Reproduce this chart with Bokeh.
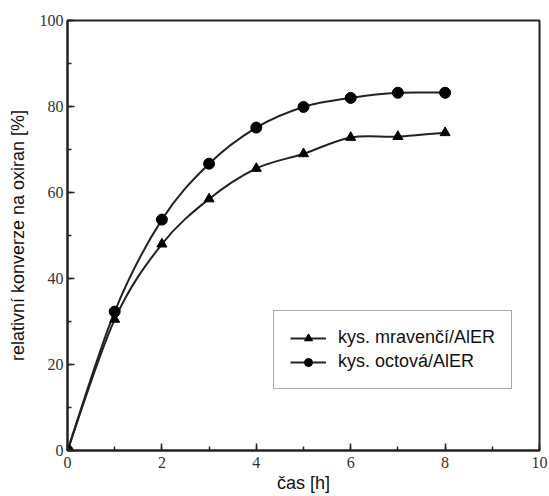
from bokeh.plotting import figure
from bokeh.models import Range1d, FixedTicker, Legend, LegendItem
from bokeh.embed import file_html
from bokeh.resources import INLINE

# time [h]
cas = [0, 1, 2, 3, 4, 5, 6, 7, 8]
# relative conversion to oxirane [%]
mravenci = [0, 30.5, 48.0, 58.5, 65.6, 69.0, 72.8, 73.0, 73.9]
octova = [0, 32.3, 53.7, 66.7, 75.1, 79.9, 82.0, 83.2, 83.2]

x_ticks = [0, 2, 4, 6, 8, 10]
y_ticks = [0, 20, 40, 60, 80, 100]

INK = "#222222"
SERIF = "'Liberation Serif', 'Times New Roman', serif"
SANS = "'Liberation Sans', Arial, sans-serif"


def smooth_segments(xs, ys):
    """Catmull-Rom connector between consecutive points, as cubic Bezier pieces."""
    n = len(xs)
    seg = dict(x0=[], y0=[], x1=[], y1=[], cx0=[], cy0=[], cx1=[], cy1=[])
    for i in range(n - 1):
        a = max(i - 1, 0)
        d = min(i + 2, n - 1)
        seg["x0"].append(xs[i]); seg["y0"].append(ys[i])
        seg["x1"].append(xs[i + 1]); seg["y1"].append(ys[i + 1])
        seg["cx0"].append(xs[i] + (xs[i + 1] - xs[a]) / 6)
        seg["cy0"].append(ys[i] + (ys[i + 1] - ys[a]) / 6)
        seg["cx1"].append(xs[i + 1] - (xs[d] - xs[i]) / 6)
        seg["cy1"].append(ys[i + 1] - (ys[d] - ys[i]) / 6)
    return seg


p = figure(width=549, height=496, output_backend="svg", toolbar_location=None,
           x_range=Range1d(0, 10), y_range=Range1d(0, 100),
           min_border_left=67, min_border_right=10, min_border_top=20, min_border_bottom=46)
p.background_fill_color = "white"
p.border_fill_color = "white"
p.grid.visible = False
p.outline_line_color = INK
p.outline_line_width = 2

for ax in (p.xaxis[0], p.yaxis[0]):
    ax.axis_line_color = INK
    ax.axis_line_width = 2
    ax.major_tick_in = 7
    ax.major_tick_out = 0
    ax.minor_tick_in = 4
    ax.minor_tick_out = 0
    ax.major_tick_line_color = INK
    ax.minor_tick_line_color = INK
    ax.major_tick_line_width = 1.5
    ax.minor_tick_line_width = 1.5
    ax.major_label_text_font = SERIF
    ax.major_label_text_font_size = "16px"
    ax.major_label_text_color = "#333333"
    ax.axis_label_text_font = SANS
    ax.axis_label_text_font_style = "normal"
    ax.axis_label_text_color = "#111111"
    ax.axis_label_text_font_size = "18px"

p.xaxis.ticker = FixedTicker(ticks=x_ticks, minor_ticks=list(range(0, 11)))
p.yaxis.ticker = FixedTicker(ticks=y_ticks, minor_ticks=list(range(0, 101, 10)))
p.xaxis.axis_label = "čas [h]"
p.yaxis.axis_label = "relativní konverze na oxiran [%]"
p.xaxis.major_label_standoff = 6
p.xaxis.axis_label_standoff = 2
p.yaxis.major_label_standoff = 4
p.yaxis.axis_label_standoff = 9

s1 = smooth_segments(cas, mravenci)
s2 = smooth_segments(cas, octova)
p.bezier(x0=s1["x0"], y0=s1["y0"], x1=s1["x1"], y1=s1["y1"], cx0=s1["cx0"], cy0=s1["cy0"],
         cx1=s1["cx1"], cy1=s1["cy1"], line_color=INK, line_width=2)
p.bezier(x0=s2["x0"], y0=s2["y0"], x1=s2["x1"], y1=s2["y1"], cx0=s2["cx0"], cy0=s2["cy0"],
         cx1=s2["cx1"], cy1=s2["cy1"], line_color=INK, line_width=2)

# one-point lines: invisible in the plot, they give the legend its line sample
k1 = p.line(cas[:1], mravenci[:1], line_color=INK, line_width=2)
k2 = p.line(cas[:1], octova[:1], line_color=INK, line_width=2)

m1 = p.scatter(cas, mravenci, marker="triangle", size=10, fill_color="black", line_color="black")
m2 = p.scatter(cas, octova, marker="circle", size=11, fill_color="black", line_color="black")

legend = Legend(items=[
    LegendItem(label="kys. mravenčí/AlER", renderers=[k1, m1]),
    LegendItem(label="kys. octová/AlER", renderers=[k2, m2]),
], location=(206, 61))
legend.label_text_font = SANS
legend.label_text_font_size = "18px"
legend.label_text_color = "#111111"
legend.border_line_color = "#555555"
legend.border_line_width = 1.5
legend.glyph_width = 36
legend.spacing = 3
legend.padding = 16
legend.margin = 0
legend.label_standoff = 12
p.add_layout(legend)

open("out.html", "w").write(file_html(p, INLINE))
